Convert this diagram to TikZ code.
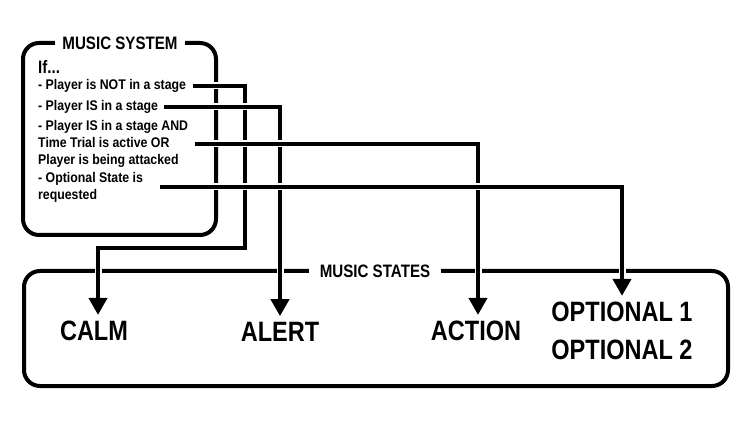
\documentclass[tikz,border=0pt]{standalone}
\usepackage{fontspec}
\setmainfont{Liberation Sans}
\newfontfamily\condfont{Liberation Sans}[FakeStretch=0.84]
\newfontfamily\rulefont{Liberation Sans}[FakeStretch=0.88]
\usetikzlibrary{arrows.meta,positioning}

\begin{document}
\begin{tikzpicture}[
    x=1pt, y=-1pt,
    >={Triangle[width=18pt,length=17pt]},
    % Styles
    frame/.style={draw=black, line width=4pt, rounded corners=16pt},
    title/.style={fill=white, inner xsep=7pt, inner ysep=3pt, font=\condfont\bfseries\fontsize{18}{18}\selectfont},
    cond/.style={anchor=west, align=left, inner sep=0pt, font=\rulefont\bfseries\fontsize{14}{16.8}\selectfont},
    state/.style={inner sep=0pt, font=\condfont\bfseries\fontsize{28}{28}\selectfont},
    link/.style={->, line width=4pt, shorten >=6pt, preaction={draw=white, line width=7pt, arrows=-}}
]

\useasboundingbox (0,0) rectangle (750,422);

% --- Music System ---
\draw[frame] (23,43) rectangle (216,235);
\node[title] (sys_title) at (120,43) {MUSIC SYSTEM};
\node[cond, font=\condfont\bfseries\fontsize{18}{18}\selectfont] (if) at (38,67) {If...};
\node[cond] (c_calm) at (38,86) {- Player is NOT in a stage};
\node[cond] (c_alert) at (38,107) {- Player IS in a stage};
\node[cond] (c_action) at (38,144) {- Player IS in a stage AND\\Time Trial is active OR\\Player is being attacked};
\node[cond] (c_opt) at (38,187) {- Optional State is\\requested};

% --- Music States ---
\draw[frame] (24,271) rectangle (728,386);
\node[title, inner xsep=11pt] (states_title) at (375,271) {MUSIC STATES};
\node[state] (calm) at (94,331) {CALM};
\node[state] (alert) at (280,332) {ALERT};
\node[state] (action) at (476,331) {ACTION};
\node[state] (opt1) at (622,312) {OPTIONAL 1};
\node[state, below=18pt of opt1] (opt2) {OPTIONAL 2};

% --- Connections ---
\coordinate (calm_turn) at (245,248);
\draw[link] ([xshift=7pt]c_calm.east) -| (calm_turn) -| ([xshift=4pt]calm.north);
\draw[link] ([xshift=6pt]c_alert.east) -| (alert.north);
\draw[link] ([xshift=7pt]c_action.east) -| ([xshift=2pt]action.north);
\draw[link] ([xshift=17pt]c_opt.east) -| (opt1.north);

\end{tikzpicture}
\end{document}
